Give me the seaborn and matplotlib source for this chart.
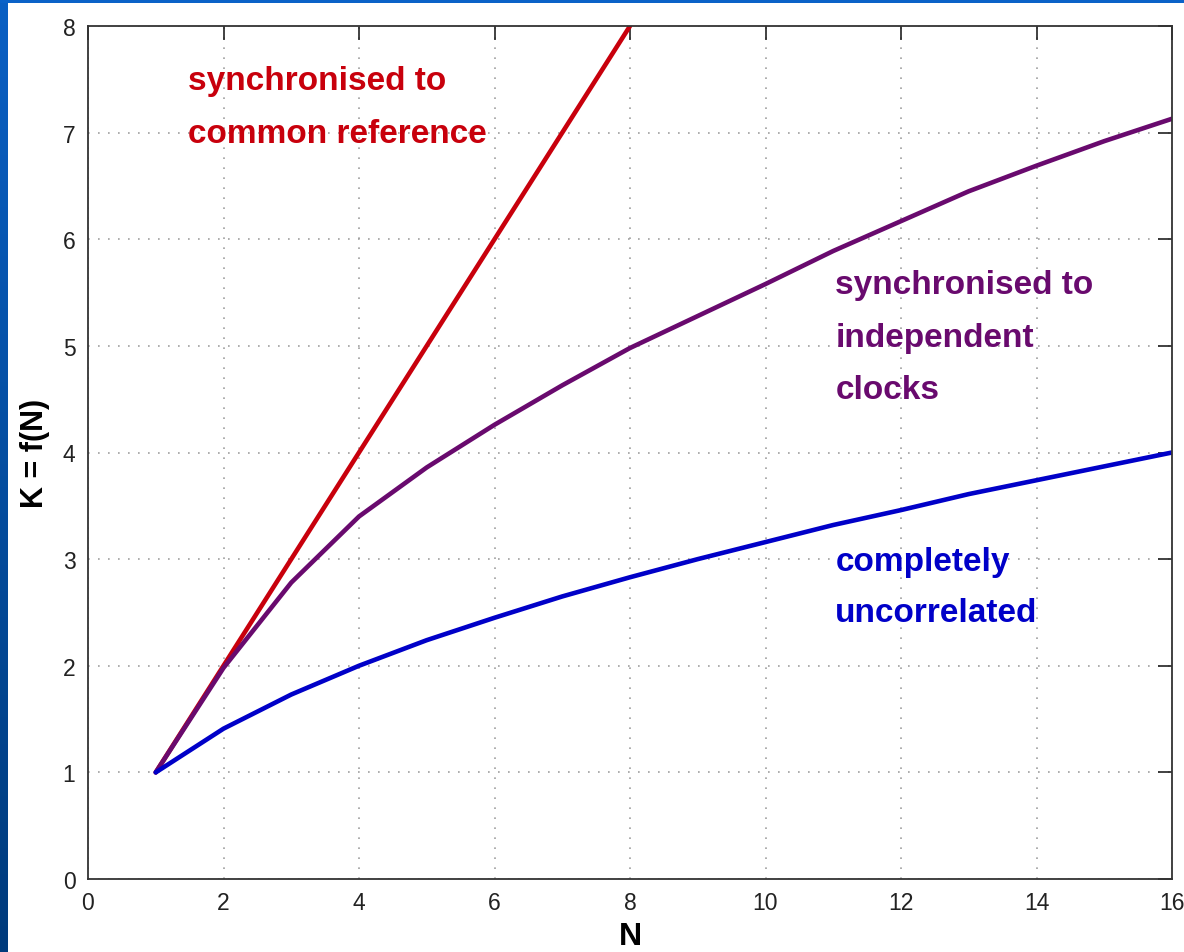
import matplotlib
matplotlib.use("Agg")
import matplotlib.pyplot as plt
import numpy as np
import pandas as pd
import seaborn as sns

# values
n_common = [1, 2, 3, 4, 5, 6, 7, 8]
k_common = [1, 2, 3, 4, 5, 6, 7, 8]

n_all = list(range(1, 17))
k_indep = [1, 1.98, 2.78, 3.40, 3.86, 4.26, 4.63, 4.98,
           5.28, 5.58, 5.89, 6.17, 6.45, 6.69, 6.92, 7.13]
k_uncorr = [1, 1.41, 1.73, 2.0, 2.24, 2.45, 2.65, 2.83,
            3.0, 3.16, 3.32, 3.46, 3.61, 3.74, 3.87, 4.0]

x_ticks = [0, 2, 4, 6, 8, 10, 12, 14, 16]
y_ticks = [0, 1, 2, 3, 4, 5, 6, 7, 8]

RED = "#c8000c"
PURPLE = "#690a6e"
BLUE = "#0000c8"

sns.set_style("white")
plt.rcParams["font.family"] = ["Liberation Sans", "DejaVu Sans"]

fig = plt.figure(figsize=(11.84, 9.53), dpi=100)
fig.patch.set_facecolor("white")

# slide background strips (blue gradient at the left, thin band on top)
bg = fig.add_axes([0, 0, 8 / 1184, 1])
grad = np.linspace(0, 1, 256).reshape(-1, 1)
cmap = matplotlib.colors.LinearSegmentedColormap.from_list("slide", ["#003b7c", "#0a60c4"])
bg.imshow(grad, aspect="auto", cmap=cmap, origin="lower")
bg.axis("off")
top = fig.add_axes([0, 1 - 4 / 953, 1, 4 / 953])
top.set_facecolor("#0a62c8")
top.set_xticks([]); top.set_yticks([])
for s in top.spines.values():
    s.set_visible(False)

ax = fig.add_axes([88 / 1184, 73 / 953, (1172 - 88) / 1184, (880 - 27) / 953])

df_c = pd.DataFrame({"N": n_common, "K": k_common})
df_i = pd.DataFrame({"N": n_all, "K": k_indep})
df_u = pd.DataFrame({"N": n_all, "K": k_uncorr})
sns.lineplot(data=df_c, x="N", y="K", ax=ax, color=RED, linewidth=3.3)
sns.lineplot(data=df_i, x="N", y="K", ax=ax, color=PURPLE, linewidth=3.3)
sns.lineplot(data=df_u, x="N", y="K", ax=ax, color=BLUE, linewidth=3.3)

ax.set_xlim(0, 16)
ax.set_ylim(0, 8)
ax.set_xticks(x_ticks)
ax.set_yticks(y_ticks)
ax.set_xticklabels([str(v) for v in x_ticks])
ax.set_yticklabels([str(v) for v in y_ticks])
ax.tick_params(direction="in", length=10, width=1.2, labelsize=16.5, colors="#222222",
               top=True, right=True, pad=9)
ax.grid(True, linestyle=(0, (1, 5)), color="#a0a0a0", linewidth=1.2)
for s in ax.spines.values():
    s.set_color("#333333")
    s.set_linewidth(1.3)

ax.set_xlabel("N", fontsize=23, fontweight="bold", labelpad=5, color="black")
ax.set_ylabel("K = f(N)", fontsize=22, fontweight="bold", labelpad=9, color="black")

txt = dict(fontsize=24, fontweight="bold", ha="left", va="center")
ax.text(1.48, 7.49, "synchronised to", color=RED, **txt)
ax.text(1.48, 6.99, "common reference", color=RED, **txt)
ax.text(11.03, 5.58, "synchronised to", color=PURPLE, **txt)
ax.text(11.03, 5.08, "independent", color=PURPLE, **txt)
ax.text(11.03, 4.59, "clocks", color=PURPLE, **txt)
ax.text(11.03, 2.98, "completely", color=BLUE, **txt)
ax.text(11.03, 2.50, "uncorrelated", color=BLUE, **txt)

fig.savefig("out.png", dpi=100)
plt.close(fig)
